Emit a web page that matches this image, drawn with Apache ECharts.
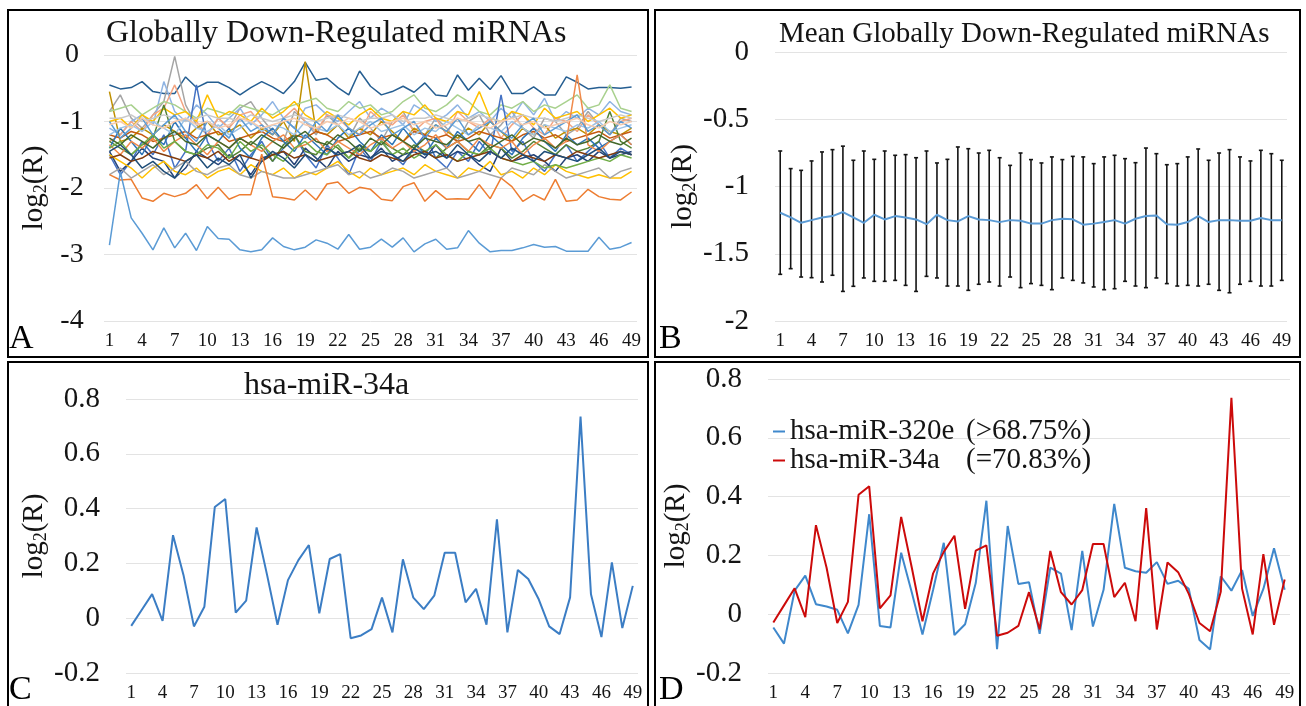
<!DOCTYPE html>
<html>
<head>
<meta charset="utf-8">
<script src="https://cdn.jsdelivr.net/npm/echarts@6/dist/echarts.min.js"></script>
<style>
html, body { margin: 0; padding: 0; background: #fff; }
#main { width: 1306px; height: 706px; }
</style>
</head>
<body>
<div id="main"></div>
<script>
// x categories shared by all four panels
var days = [];
for (var d = 1; d <= 49; d++) days.push(String(d));

// ---- panel A: globally down-regulated miRNAs ----
var topBlue = [-0.45,-0.51,-0.49,-0.40,-0.55,-0.58,-0.58,-0.33,-0.49,-0.41, -0.41,-0.49,-0.60,-0.49,-0.40,-0.48,-0.58,-0.40,-0.11,-0.38,
  -0.35,-0.49,-0.60,-0.24,-0.47,-0.60,-0.55,-0.47,-0.56,-0.42, -0.60,-0.62,-0.30,-0.53,-0.35,-0.52,-0.31,-0.58,-0.58,-0.48,
  -0.60,-0.60,-0.33,-0.41,-0.51,-0.49,-0.49,-0.50,-0.48];
var lowOrange = [-1.80,-1.88,-1.87,-2.15,-2.20,-2.08,-2.13,-2.08,-1.95,-2.16, -1.99,-2.17,-2.10,-2.10,-1.49,-2.13,-2.15,-2.18,-2.03,-2.18,
  -1.94,-1.91,-2.08,-1.99,-2.02,-2.17,-2.19,-1.98,-1.92,-2.20, -2.04,-2.17,-2.16,-2.17,-1.95,-2.16,-1.85,-1.98,-2.20,-2.10,
  -2.18,-1.87,-2.20,-2.18,-2.02,-2.13,-2.17,-2.18,-2.06];
var lowBlue = [-2.86,-1.76,-2.45,-2.68,-2.93,-2.60,-2.90,-2.68,-2.94,-2.58, -2.76,-2.77,-2.93,-2.96,-2.93,-2.75,-2.88,-2.93,-2.89,-2.78,
  -2.83,-2.92,-2.70,-2.92,-2.89,-2.77,-2.89,-2.75,-2.96,-2.84, -2.77,-2.92,-2.90,-2.64,-2.83,-2.96,-2.94,-2.94,-2.90,-2.85,
  -2.89,-2.88,-2.95,-2.95,-2.95,-2.74,-2.92,-2.89,-2.82];
var bandLines = [
  [-0.85,-0.6,-0.95,-1.1,-0.9,-0.7,-0.02,-0.75,-1.05,-1.2, -0.95,-1.1,-0.8,-0.7,-0.95,-1.15,-1.3,-0.85,-1.0,-1.2, -0.9,-1.05,-1.25,-0.95,-1.1,-1.3,-1.0,-0.85,-1.15,-1.2, -0.95,-1.1,-1.3,-1.0,-0.9,-1.2,-1.05,-0.85,-1.1,-1.25, -0.95,-1.0,-1.2,-1.1,-0.85,-1.05,-1.2,-0.95,-1.0],
  [-1.1,-1.2,-1.0,-0.9,-1.05,-0.4,-0.85,-1.0,-0.75,-0.9, -1.1,-0.95,-0.8,-1.05,-0.9,-0.7,-0.95,-1.1,-0.8,-0.75, -0.9,-1.0,-0.85,-0.7,-0.95,-0.8,-0.9,-1.05,-0.75,-0.85, -1.0,-0.9,-0.75,-0.95,-0.85,-1.0,-0.8,-0.95,-0.7,-0.9, -0.65,-1.0,-0.85,-0.95,-0.8,-0.9,-0.7,-0.85,-0.9],
  [-1.3,-1.2,-1.0,-1.15,-0.9,-0.8,-0.45,-0.85,-1.0,-1.2, -0.95,-1.1,-0.9,-0.85,-1.05,-1.2,-0.95,-0.8,-1.0,-1.15, -0.9,-0.95,-1.1,-1.2,-0.85,-1.0,-1.05,-0.9,-1.15,-1.0, -0.95,-1.2,-0.85,-1.0,-1.1,-0.95,-1.25,-1.05,-0.9,-1.1, -1.2,-0.95,-1.0,-1.15,-0.9,-1.05,-1.2,-1.0,-0.95],
  [-0.55,-1.3,-1.25,-1.1,-1.2,-1.05,-1.15,-1.25,-1.1,-1.0, -1.2,-1.15,-1.05,-1.25,-1.1,-1.2,-1.0,-1.3,-0.1,-1.15, -1.2,-1.05,-1.25,-1.1,-1.2,-1.0,-1.15,-1.3,-1.1,-1.2, -1.05,-1.15,-1.25,-1.1,-1.2,-1.0,-1.15,-1.3,-1.1,-1.2, -1.05,-1.25,-1.15,-1.1,-1.2,-1.05,-1.15,-1.2,-1.1],
  [-0.85,-0.8,-0.75,-0.9,-0.8,-0.7,-0.75,-0.85,-0.95,-0.8, -0.85,-0.9,-0.75,-0.8,-0.85,-0.9,-0.8,-0.75,-0.7,-0.65, -0.8,-0.85,-0.7,-0.8,-0.75,-0.9,-0.85,-0.7,-0.6,-0.8, -0.85,-0.75,-0.6,-0.7,-0.85,-0.9,-0.75,-0.8,-0.7,-0.85, -0.75,-0.8,-0.7,-0.6,-0.8,-0.75,-0.45,-0.8,-0.85],
  [-1.0,-0.95,-1.1,-0.9,-1.0,-0.8,-0.9,-0.85,-1.0,-0.6, -0.95,-0.85,-0.9,-1.0,-0.8,-0.95,-0.85,-0.7,-0.9,-1.0, -0.85,-0.95,-1.05,-0.9,-0.8,-0.95,-1.0,-0.85,-0.9,-0.75, -0.95,-1.0,-0.85,-0.9,-0.55,-0.95,-1.0,-0.85,-0.9,-1.05, -0.8,-0.95,-0.9,-0.85,-1.0,-0.9,-0.8,-0.95,-0.9],
  [-1.5,-1.8,-1.6,-1.3,-1.5,-1.2,-1.7,-1.45,-0.45,-1.3, -1.6,-1.4,-1.75,-1.5,-1.3,-1.6,-1.4,-1.2,-1.5,-1.7, -1.35,-1.55,-1.8,-1.4,-1.6,-1.3,-1.5,-1.65,-1.4,-1.2, -1.55,-1.7,-1.45,-1.6,-1.3,-1.5,-0.6,-1.45,-1.3,-1.6, -1.75,-1.5,-1.35,-1.6,-1.45,-1.3,-1.55,-1.4,-1.5],
  [-1.45,-1.75,-1.6,-1.4,-1.55,-1.6,-1.85,-1.7,-1.45,-1.55, -1.65,-1.5,-1.6,-1.8,-1.55,-1.5,-1.45,-1.65,-1.4,-1.55, -1.7,-1.45,-1.6,-1.5,-1.55,-1.4,-1.6,-1.5,-1.45,-1.55, -1.35,-1.55,-1.45,-1.5,-1.65,-1.75,-1.4,-1.6,-1.55,-1.5, -1.6,-1.75,-1.55,-1.5,-1.6,-1.45,-1.55,-1.5,-1.45],
  [-1.2,-1.25,-1.15,-1.2,-1.3,-1.25,-1.2,-1.15,-1.25,-1.2, -1.15,-1.3,-1.25,-1.2,-1.15,-1.25,-1.3,-1.2,-1.25,-1.15, -1.2,-1.3,-1.25,-1.2,-1.15,-1.25,-1.2,-1.3,-1.15,-1.2, -1.25,-1.2,-1.3,-1.25,-1.15,-1.2,-1.25,-1.3,-1.2,-1.15, -1.25,-1.2,-1.3,-1.25,-1.2,-1.15,-1.25,-1.2,-1.15],
  [-1.3,-1.4,-1.5,-1.35,-1.25,-0.75,-1.3,-1.45,-1.5,-1.4, -1.35,-1.55,-1.45,-1.3,-1.4,-1.6,-1.35,-1.2,-1.45,-1.5, -1.3,-1.4,-1.55,-1.35,-1.45,-1.3,-1.4,-1.5,-1.35,-1.45, -1.55,-1.4,-1.3,-1.45,-1.5,-1.35,-1.4,-1.55,-1.45,-1.3, -1.4,-1.5,-1.35,-1.45,-1.4,-1.3,-0.85,-1.3,-1.4],
  [-1.5,-1.6,-1.7,-1.85,-1.7,-1.6,-1.75,-1.8,-1.7,-1.85, -1.75,-1.7,-1.8,-1.65,-1.75,-1.8,-1.7,-1.85,-1.75,-1.8, -1.7,-1.6,-1.75,-1.85,-1.7,-1.8,-1.75,-1.7,-1.8,-1.65, -1.75,-1.8,-1.85,-1.7,-1.75,-1.6,-1.8,-1.75,-1.85,-1.7, -1.8,-1.65,-1.75,-1.8,-1.85,-1.8,-1.85,-1.85,-1.75],
  [-1.8,-1.7,-1.85,-1.75,-1.65,-1.8,-1.7,-1.6,-1.75,-1.8, -1.7,-1.65,-1.8,-1.85,-1.75,-1.8,-1.85,-1.85,-1.8,-1.75, -1.7,-1.65,-1.8,-1.75,-1.85,-1.8,-1.7,-1.75,-1.85,-1.8, -1.75,-1.7,-1.85,-1.8,-1.75,-1.8,-1.85,-1.7,-1.75,-1.8, -1.65,-1.75,-1.85,-1.8,-1.75,-1.7,-1.85,-1.75,-1.7],
  [-0.95,-0.95,-0.9,-1.0,-0.95,-0.9,-0.95,-1.0,-0.95,-0.9, -0.95,-0.95,-1.0,-0.9,-0.95,-1.0,-0.95,-0.9,-0.95,-1.0, -0.95,-0.9,-0.95,-1.0,-0.95,-0.95,-0.9,-1.0,-0.95,-0.95, -0.9,-0.95,-1.0,-0.95,-0.9,-0.95,-1.0,-0.95,-0.9,-0.95, -0.95,-1.0,-0.95,-0.9,-0.95,-1.0,-0.95,-0.9,-0.95],
  [-1.4,-1.1,-1.3,-1.5,-1.2,-1.35,-1.0,-1.25,-1.45,-1.2, -1.3,-1.1,-1.4,-1.55,-1.25,-1.1,-1.3,-1.45,-1.2,-1.35, -1.5,-1.25,-1.1,-1.3,-1.45,-1.2,-1.35,-1.1,-1.3,-1.5, -1.25,-1.4,-1.15,-1.3,-1.45,-1.2,-1.35,-1.5,-1.25,-1.1, -1.3,-1.45,-1.2,-1.35,-1.25,-1.4,-1.3,-1.2,-1.35],
  [-1.2,-1.1,-1.05,-1.15,-1.0,-1.1,-1.2,-0.95,-1.1,-1.15, -1.05,-1.2,-1.1,-1.0,-1.15,-1.05,-1.1,-1.2,-1.0,-1.1, -1.15,-1.05,-1.2,-1.1,-1.0,-1.15,-1.1,-1.05,-1.2,-1.1, -1.15,-1.0,-1.1,-1.2,-1.05,-1.1,-1.15,-1.0,-1.1,-1.2, -1.05,-1.1,-1.15,-1.05,-1.1,-1.0,-1.15,-1.1,-1.05],
  [-1.35,-1.5,-1.3,-1.4,-1.25,-1.45,-1.3,-1.2,-1.35,-1.5, -1.3,-1.4,-1.25,-1.35,-1.45,-1.3,-1.2,-1.4,-1.35,-1.25, -1.45,-1.3,-1.4,-1.5,-1.35,-1.25,-1.4,-1.3,-1.45,-1.35, -1.2,-1.4,-1.3,-1.45,-1.25,-1.35,-1.4,-1.3,-1.5,-1.35, -1.25,-1.4,-1.3,-0.3,-1.35,-1.45,-1.3,-1.2,-1.35],
  [-1.4,-1.3,-1.5,-1.35,-1.2,-1.4,-1.3,-1.45,-1.5,-1.35, -1.4,-1.55,-1.3,-1.45,-1.35,-1.5,-1.6,-1.4,-1.3,-1.45, -1.5,-1.35,-1.55,-1.4,-1.45,-1.3,-1.5,-1.4,-1.55,-1.45, -1.35,-1.5,-1.6,-1.45,-1.5,-1.4,-1.55,-1.6,-1.65,-1.6, -1.7,-1.65,-1.7,-1.65,-1.6,-1.55,-1.6,-1.5,-1.55],
  [-1.55,-1.5,-1.6,-1.55,-1.45,-1.5,-1.55,-1.6,-1.5,-1.55, -1.45,-1.6,-1.5,-1.55,-1.6,-1.5,-1.45,-1.55,-1.5,-1.6, -1.55,-1.5,-1.45,-1.55,-1.6,-1.5,-1.55,-1.6,-1.5,-1.45, -1.55,-1.5,-1.6,-1.55,-1.5,-1.45,-1.55,-1.6,-1.5,-1.55, -1.6,-1.5,-1.55,-1.45,-1.5,-1.55,-1.5,-1.45,-1.5],
  [-1.0,-1.25,-1.1,-0.95,-1.2,-1.05,-0.9,-1.15,-1.3,-1.0, -1.1,-1.25,-0.95,-1.15,-1.05,-1.2,-0.95,-1.1,-1.25,-1.0, -1.15,-0.9,-1.1,-1.2,-1.05,-0.95,-1.2,-1.1,-1.0,-1.25, -1.05,-1.15,-0.95,-1.2,-1.1,-1.0,-1.15,-1.25,-1.05,-0.95, -1.2,-1.1,-1.0,-0.9,-1.15,-1.05,-1.2,-1.0,-1.1],
  [-1.45,-1.35,-1.5,-1.7,-1.6,-1.75,-1.85,-1.6,-1.5,-1.7, -1.55,-1.65,-1.5,-1.85,-1.6,-1.45,-1.55,-1.7,-1.5,-1.6, -1.4,-1.5,-1.45,-1.35,-1.55,-1.45,-1.5,-1.6,-1.4,-1.5, -1.45,-1.55,-1.35,-1.5,-1.6,-1.45,-1.55,-1.4,-1.5,-1.6, -1.45,-1.5,-1.55,-1.6,-1.5,-1.4,-1.55,-1.45,-1.5],
  [-1.05,-1.0,-1.1,-0.95,-1.05,-1.1,-1.0,-0.95,-1.05,-1.0, -1.1,-1.05,-0.95,-1.0,-1.1,-1.05,-1.0,-0.95,-1.05,-1.1, -1.0,-1.05,-0.95,-1.0,-1.1,-1.05,-1.0,-0.95,-1.05,-1.0, -1.1,-1.05,-0.95,-1.0,-1.05,-1.1,-1.0,-0.95,-1.05,-1.0, -1.1,-1.05,-1.0,-0.95,-1.05,-1.1,-1.0,-1.05,-1.0],
  [-1.25,-1.35,-1.2,-1.3,-1.4,-1.25,-1.15,-1.3,-1.35,-1.2, -1.3,-1.4,-1.25,-1.35,-1.2,-1.3,-1.4,-1.25,-1.15,-1.3, -1.35,-1.2,-1.3,-1.45,-1.25,-1.35,-1.2,-1.3,-1.4,-1.25, -1.3,-1.35,-1.2,-1.3,-1.25,-1.4,-1.3,-1.2,-1.35,-1.25, -1.3,-1.4,-1.25,-1.35,-1.3,-1.2,-1.3,-1.35,-1.25]
];
var bandColors = ['#A5A5A5','#8FB4E3','#F4A582','#BF9000','#A9D18E','#FFC000','#4472C4','#264478','#C55A11','#548235',
  '#FFC000','#A5A5A5','#C9C9C9','#2E75B6','#9DC3E6','#F08A4B','#70AD47','#843C0C','#5B9BD5','#1F4E79','#F8CBAD','#43682B'];

// ---- panel B: mean with error bars ----
var meanB = [-1.195,-1.23,-1.27,-1.25,-1.23,-1.22,-1.19,-1.23,-1.27,-1.21, -1.245,-1.22,-1.23,-1.245,-1.28,-1.21,-1.25,-1.26,-1.22,-1.245,
  -1.25,-1.265,-1.25,-1.255,-1.276,-1.276,-1.25,-1.24,-1.244,-1.284, -1.276,-1.264,-1.25,-1.276,-1.24,-1.22,-1.215,-1.28,-1.284,-1.264,
  -1.22,-1.264,-1.25,-1.25,-1.255,-1.255,-1.234,-1.25,-1.25];
var errTopB = [-0.736,-0.867,-0.88,-0.81,-0.743,-0.726,-0.70,-0.805,-0.736,-0.798, -0.736,-0.768,-0.763,-0.786,-0.736,-0.825,-0.798,-0.706,-0.719,-0.751,
  -0.731,-0.786,-0.843,-0.751,-0.8,-0.825,-0.78,-0.8,-0.776,-0.78, -0.83,-0.78,-0.768,-0.793,-0.823,-0.714,-0.756,-0.838,-0.83,-0.78,
  -0.721,-0.805,-0.751,-0.726,-0.78,-0.81,-0.731,-0.756,-0.805];
var errLowB = [-1.653,-1.611,-1.673,-1.678,-1.71,-1.66,-1.78,-1.742,-1.68,-1.705, -1.705,-1.698,-1.735,-1.78,-1.668,-1.68,-1.74,-1.74,-1.772,-1.727,
  -1.71,-1.74,-1.673,-1.752,-1.722,-1.735,-1.767,-1.68,-1.698,-1.717, -1.747,-1.767,-1.76,-1.705,-1.74,-1.752,-1.68,-1.722,-1.74,-1.735,
  -1.74,-1.727,-1.772,-1.79,-1.727,-1.705,-1.74,-1.74,-1.698];

// ---- panels C and D ----
var miR34a = [-0.028,0.03,0.088,-0.01,0.303,0.158,-0.03,0.042,0.406,0.435, 0.02,0.064,0.331,0.158,-0.024,0.139,0.212,0.267,0.018,0.216,
  0.234,-0.073,-0.063,-0.04,0.075,-0.052,0.215,0.075,0.033,0.082, 0.239,0.239,0.058,0.107,-0.024,0.361,-0.052,0.176,0.143,0.069,
  -0.03,-0.058,0.076,0.736,0.087,-0.069,0.204,-0.036,0.118];
var miR320e = [-0.045,-0.1,0.08,0.131,0.034,0.026,0.015,-0.065,0.032,0.34, -0.04,-0.045,0.209,0.074,-0.069,0.083,0.243,-0.071,-0.034,0.106,
  0.386,-0.119,0.3,0.103,0.109,-0.067,0.158,0.138,-0.054,0.215, -0.042,0.083,0.375,0.158,0.146,0.141,0.177,0.103,0.114,0.086,
  -0.088,-0.12,0.129,0.08,0.15,-0.006,0.086,0.224,0.083];
var legendPct = { 'hsa-miR-320e': '(>68.75%)', 'hsa-miR-34a': '(=70.83%)' };

var SERIF = '"Liberation Serif", "Times New Roman", serif';
var INK = '#141414';
var GRID_LINE = '#E3E3E3';

function xAxisFor(idx) {
  return {
    type: 'category', gridIndex: idx, data: days, boundaryGap: true,
    axisLine: { show: false, onZero: false },
    axisTick: { show: false },
    axisLabel: { interval: 2, fontFamily: SERIF, fontSize: 19, color: INK, margin: 11 },
    splitLine: { show: false }
  };
}

function yAxisFor(idx, min, max, step, gap, labelOpt) {
  return {
    type: 'value', gridIndex: idx, min: min, max: max, interval: step,
    axisLine: { show: false }, axisTick: { show: false },
    axisLabel: Object.assign({ fontFamily: SERIF, fontSize: 29, color: INK }, labelOpt),
    splitLine: { lineStyle: { color: GRID_LINE, width: 1 } },
    name: '{a|log}{s|2}{a|(R)}', nameLocation: 'middle', nameGap: gap,
    nameTextStyle: {
      rich: {
        a: { fontFamily: SERIF, fontSize: 29, color: INK },
        s: { fontFamily: SERIF, fontSize: 18, color: INK, padding: [14, 0, 0, 0] }
      }
    }
  };
}

var series = [];
var aLines = [topBlue].concat(bandLines, [lowOrange, lowBlue]);
var aColors = ['#255E91'].concat(bandColors, ['#ED7D31', '#5B9BD5']);
aLines.forEach(function (vals, k) {
  series.push({
    type: 'line', xAxisIndex: 0, yAxisIndex: 0, data: vals, symbol: 'none',
    lineStyle: { width: 1.5, color: aColors[k] }, itemStyle: { color: aColors[k] }, silent: true
  });
});

series.push({
  type: 'custom', xAxisIndex: 1, yAxisIndex: 1, z: 2,
  data: errTopB.map(function (t, i) { return [i, t, errLowB[i]]; }),
  encode: { x: 0, y: [1, 2] },
  renderItem: function (params, api) {
    var i = api.value(0);
    var hi = api.coord([i, api.value(1)]);
    var lo = api.coord([i, api.value(2)]);
    var st = { stroke: INK, lineWidth: 1.6 };
    return {
      type: 'group', children: [
        { type: 'line', shape: { x1: hi[0], y1: hi[1], x2: lo[0], y2: lo[1] }, style: st },
        { type: 'line', shape: { x1: hi[0] - 2, y1: hi[1], x2: hi[0] + 2, y2: hi[1] }, style: st },
        { type: 'line', shape: { x1: lo[0] - 2, y1: lo[1], x2: lo[0] + 2, y2: lo[1] }, style: st }
      ]
    };
  }
});
series.push({
  type: 'line', xAxisIndex: 1, yAxisIndex: 1, z: 3, data: meanB, symbol: 'none',
  lineStyle: { width: 2, color: '#5B9BD5' }, itemStyle: { color: '#5B9BD5' }
});

series.push({
  type: 'line', xAxisIndex: 2, yAxisIndex: 2, data: miR34a, symbol: 'none',
  lineStyle: { width: 2, color: '#3B7DC4' }, itemStyle: { color: '#3B7DC4' }
});

series.push({
  name: 'hsa-miR-320e', type: 'line', xAxisIndex: 3, yAxisIndex: 3, data: miR320e, symbol: 'none',
  lineStyle: { width: 2, color: '#3F88CC' }, itemStyle: { color: '#3F88CC' }
});
series.push({
  name: 'hsa-miR-34a', type: 'line', xAxisIndex: 3, yAxisIndex: 3, data: miR34a, symbol: 'none',
  lineStyle: { width: 2, color: '#CC0A0A' }, itemStyle: { color: '#CC0A0A' }
});

function panelBox(x, y, w, h) {
  return { type: 'rect', shape: { x: x, y: y, width: w, height: h }, style: { fill: null, stroke: '#000', lineWidth: 2 }, silent: true };
}
function panelLetter(ch, x, y) {
  return { type: 'text', x: x, y: y, style: { text: ch, font: '34px ' + SERIF, fill: '#000' }, silent: true };
}

var option = {
  backgroundColor: '#fff',
  animation: false,
  title: [
    { text: 'Globally Down-Regulated miRNAs', left: 101, top: 13, textStyle: { fontFamily: SERIF, fontSize: 32, fontWeight: 'normal', color: INK } },
    { text: 'Mean Globally Down-Regulated miRNAs', left: 774, top: 15, textStyle: { fontFamily: SERIF, fontSize: 29, fontWeight: 'normal', color: INK } },
    { text: 'hsa-miR-34a', left: 239, top: 365, textStyle: { fontFamily: SERIF, fontSize: 32, fontWeight: 'normal', color: INK } }
  ],
  legend: {
    data: ['hsa-miR-320e', 'hsa-miR-34a'],
    orient: 'vertical', left: 768, top: 412, itemGap: 0,
    icon: 'rect', itemWidth: 12, itemHeight: 2,
    formatter: function (name) { return '{n|' + name + '}{p|' + legendPct[name] + '}'; },
    textStyle: {
      color: INK,
      rich: {
        n: { fontFamily: SERIF, fontSize: 29, color: INK, width: 176, lineHeight: 29 },
        p: { fontFamily: SERIF, fontSize: 29, color: INK, lineHeight: 29 }
      }
    }
  },
  grid: [
    { left: 104, top: 55, width: 533, height: 266 },
    { left: 775, top: 52, width: 512, height: 269 },
    { left: 126, top: 399, width: 512, height: 274 },
    { left: 768, top: 379, width: 522, height: 294 }
  ],
  xAxis: [xAxisFor(0), xAxisFor(1), xAxisFor(2), xAxisFor(3)],
  yAxis: [
    yAxisFor(0, -4, 0, 1, 54, { fontSize: 28, align: 'center', margin: 32 }),
    yAxisFor(1, -2, 0, 0.5, 75, { margin: 26 }),
    yAxisFor(2, -0.2, 0.8, 0.2, 74, { margin: 26 }),
    yAxisFor(3, -0.2, 0.8, 0.2, 75, { margin: 26 })
  ],
  series: series,
  graphic: [
    panelBox(8, 10, 640, 347),
    panelBox(655, 10, 645, 347),
    panelBox(8, 362, 640, 350),
    panelBox(655, 362, 645, 350),
    panelLetter('A', 9, 322),
    panelLetter('B', 659, 322),
    panelLetter('C', 9, 673),
    panelLetter('D', 659, 673)
  ]
};

var chart = echarts.init(document.getElementById('main'), null, { renderer: 'canvas' });
chart.setOption(option);
</script>
</body>
</html>
